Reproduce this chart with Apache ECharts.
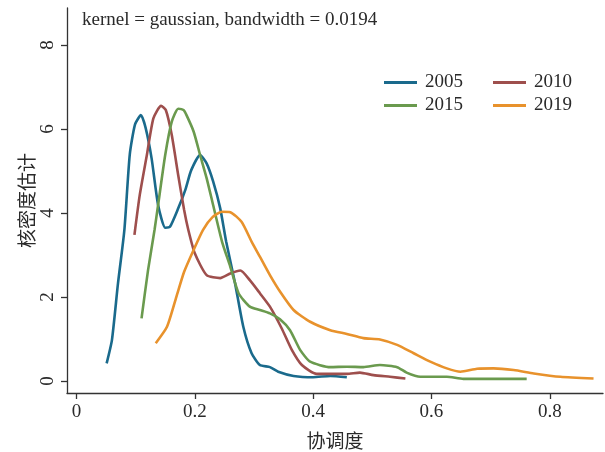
<!DOCTYPE html>
<html>
<head>
<meta charset="utf-8">
<script src="https://cdn.jsdelivr.net/npm/echarts@6/dist/echarts.min.js"></script>
<style>html,body{margin:0;padding:0;background:#fff}#c{width:605px;height:452px}</style>
</head>
<body>
<div id="c"></div>
<script>
const seriesNames = ['2005', '2010', '2015', '2019'];
const xTicks = [0, 0.2, 0.4, 0.6, 0.8];
const yTicks = [0, 2, 4, 6, 8];
const xTitle = '协调度';
const yTitle = '核密度估计';
const note = 'kernel = gaussian, bandwidth = 0.0194';

const d2005 = [[0.051,0.42],[0.060,0.98],[0.070,2.30],[0.081,3.60],[0.090,5.38],[0.099,6.11],[0.109,6.33],[0.117,6.02],[0.127,5.30],[0.138,4.19],[0.150,3.65],[0.158,3.67],[0.172,4.11],[0.184,4.55],[0.194,5.02],[0.209,5.38],[0.220,5.18],[0.231,4.75],[0.243,4.11],[0.253,3.32],[0.268,2.33],[0.282,1.29],[0.296,0.66],[0.310,0.38],[0.327,0.33],[0.341,0.22],[0.367,0.12],[0.400,0.09],[0.429,0.12],[0.457,0.09]];
const d2010 = [[0.098,3.48],[0.107,4.43],[0.119,5.38],[0.130,6.25],[0.143,6.55],[0.151,6.45],[0.161,5.86],[0.172,4.90],[0.182,4.07],[0.189,3.60],[0.200,3.04],[0.220,2.52],[0.243,2.45],[0.260,2.56],[0.277,2.63],[0.293,2.40],[0.310,2.09],[0.327,1.77],[0.347,1.25],[0.364,0.74],[0.381,0.38],[0.406,0.17],[0.457,0.17],[0.479,0.20],[0.502,0.14],[0.530,0.10],[0.556,0.06]];
const d2015 = [[0.110,1.49],[0.121,2.64],[0.132,3.60],[0.138,4.19],[0.150,5.38],[0.161,6.17],[0.172,6.48],[0.181,6.45],[0.186,6.33],[0.198,5.94],[0.209,5.38],[0.220,4.83],[0.231,4.19],[0.246,3.32],[0.260,2.72],[0.274,2.09],[0.293,1.77],[0.310,1.69],[0.327,1.61],[0.344,1.47],[0.361,1.21],[0.378,0.74],[0.395,0.46],[0.429,0.33],[0.457,0.34],[0.485,0.33],[0.513,0.38],[0.542,0.33],[0.558,0.20],[0.581,0.10],[0.626,0.10],[0.654,0.05],[0.761,0.05]];
const d2019 = [[0.134,0.90],[0.153,1.29],[0.169,2.01],[0.182,2.60],[0.198,3.12],[0.214,3.60],[0.230,3.90],[0.246,4.03],[0.260,4.02],[0.279,3.79],[0.296,3.32],[0.310,2.96],[0.327,2.52],[0.344,2.13],[0.367,1.69],[0.395,1.41],[0.429,1.21],[0.457,1.12],[0.485,1.02],[0.513,0.99],[0.542,0.86],[0.570,0.66],[0.598,0.46],[0.626,0.30],[0.649,0.22],[0.677,0.29],[0.705,0.30],[0.739,0.26],[0.773,0.18],[0.818,0.10],[0.874,0.06]];

const colors = ['#1a6a8c', '#9e4f4d', '#6a9a4e', '#e8922c'];
const allData = [d2005, d2010, d2015, d2019];
const FONT = '"Liberation Serif", "Noto Sans CJK SC", serif';
const TXT = '#2a2a2a';

const chart = echarts.init(document.getElementById('c'), null, {renderer: 'canvas'});
const legendCommon = {
  icon: 'rect', itemWidth: 33, itemHeight: 3, itemGap: 30,
  textStyle: {fontFamily: FONT, fontSize: 19, color: TXT, padding: [0,0,0,3]},
  orient: 'horizontal', padding: 0, selectedMode: false
};
chart.setOption({
  animation: false,
  color: colors,
  grid: {left: 67, right: 2, top: 8, bottom: 59, containLabel: false, outerBoundsMode: 'none'},
  graphic: [{type: 'text', left: 82, top: 11, style: {text: note, font: '19px "Liberation Serif"', fill: TXT}}],
  legend: [
    Object.assign({data: [seriesNames[0], seriesNames[1]], left: 384, top: 73}, legendCommon),
    Object.assign({data: [seriesNames[2], seriesNames[3]], left: 384, top: 96}, legendCommon)
  ],
  xAxis: {
    type: 'value', min: -0.016, max: 0.89,
    name: xTitle, nameLocation: 'middle', nameGap: 41, nameMoveOverlap: false,
    nameTextStyle: {fontFamily: FONT, fontSize: 19, color: TXT},
    axisLine: {onZero: false, lineStyle: {color: '#333', width: 1.3}},
    axisTick: {customValues: xTicks, length: 6, lineStyle: {color: '#333', width: 1.3}},
    axisLabel: {customValues: xTicks, fontFamily: FONT, fontSize: 19, color: TXT, margin: 10},
    splitLine: {show: false}
  },
  yAxis: {
    type: 'value', min: -0.286, max: 8.88,
    name: yTitle, nameLocation: 'middle', nameGap: 28, nameRotate: 90, nameMoveOverlap: false,
    nameTextStyle: {fontFamily: FONT, fontSize: 19, color: TXT},
    axisLine: {show: true, onZero: false, lineStyle: {color: '#333', width: 1.3}},
    axisTick: {show: true, customValues: yTicks, length: 6, lineStyle: {color: '#333', width: 1.3}},
    axisLabel: {customValues: yTicks, rotate: 90, fontFamily: FONT, fontSize: 19, color: TXT, margin: 9},
    splitLine: {show: false}
  },
  series: seriesNames.map((n, i) => ({
    name: n, type: 'line', data: allData[i], symbol: 'none', smooth: 0.2,
    lineStyle: {width: 2.6, color: colors[i]}, itemStyle: {color: colors[i]}
  }))
});
</script>
</body>
</html>
